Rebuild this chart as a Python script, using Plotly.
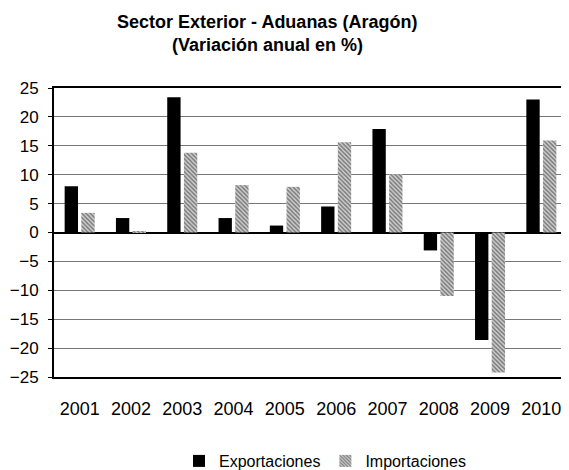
import plotly.graph_objects as go

years = ["2001", "2002", "2003", "2004", "2005", "2006", "2007", "2008", "2009", "2010"]
exportaciones = [8.0, 2.5, 23.4, 2.5, 1.2, 4.5, 17.9, -3.1, -18.6, 23.0]
importaciones = [3.4, 0.2, 13.8, 8.2, 7.9, 15.6, 10.1, -11.0, -24.2, 15.9]
y_ticks = [25, 20, 15, 10, 5, 0, -5, -10, -15, -20, -25]
title_lines = ["Sector Exterior - Aduanas (Aragón)", "(Variación anual en %)"]

font = "Liberation Sans, Arial, sans-serif"

fig = go.Figure()
fig.add_trace(go.Bar(
    x=years, y=exportaciones, name="Exportaciones",
    marker=dict(color="#000000", line=dict(width=0)),
))
fig.add_trace(go.Bar(
    x=years, y=importaciones, name="Importaciones",
    marker=dict(color="#cfcfcf", line=dict(width=0),
                pattern=dict(shape="\\", fgcolor="#262626", size=3, solidity=0.5)),
))

# page body has an 8px margin; figure is sized/offset to compensate
for line, yy in zip(title_lines, [22.5, 44.5]):
    fig.add_annotation(
        text="<b>" + line + "</b>", xref="paper", yref="paper",
        x=(267 - 54) / 513, y=(377 - yy) / 289, xanchor="center", yanchor="middle",
        showarrow=False, font=dict(family=font, size=18, color="#000000"),
    )

fig.update_layout(
    width=561, height=462,
    paper_bgcolor="white", plot_bgcolor="white",
    margin=dict(l=46, r=2, t=80, b=93, autoexpand=False),
    barmode="group", bargap=0.35, bargroupgap=0.2,
    font=dict(family=font, size=17, color="#000000"),
    showlegend=True,
    legend=dict(orientation="h", x=(325 - 54) / 513, xanchor="center",
                y=(377 - 461) / 289, yanchor="middle",
                font=dict(family=font, size=16), tracegroupgap=0, itemwidth=30),
    xaxis=dict(showgrid=False, ticks="", showline=True, linecolor="black", linewidth=2,
               mirror=True, tickfont=dict(size=18), ticklabelstandoff=14),
    yaxis=dict(range=[-25, 25], tickvals=y_ticks, showgrid=True, gridcolor="#777777",
               gridwidth=1, zeroline=True, zerolinecolor="black", zerolinewidth=2,
               showline=True, linecolor="black", linewidth=2, mirror=True,
               ticks="outside", ticklen=4, tickcolor="black", tickfont=dict(size=17),
               ticklabelstandoff=6),
)

fig.write_html("out.html")
